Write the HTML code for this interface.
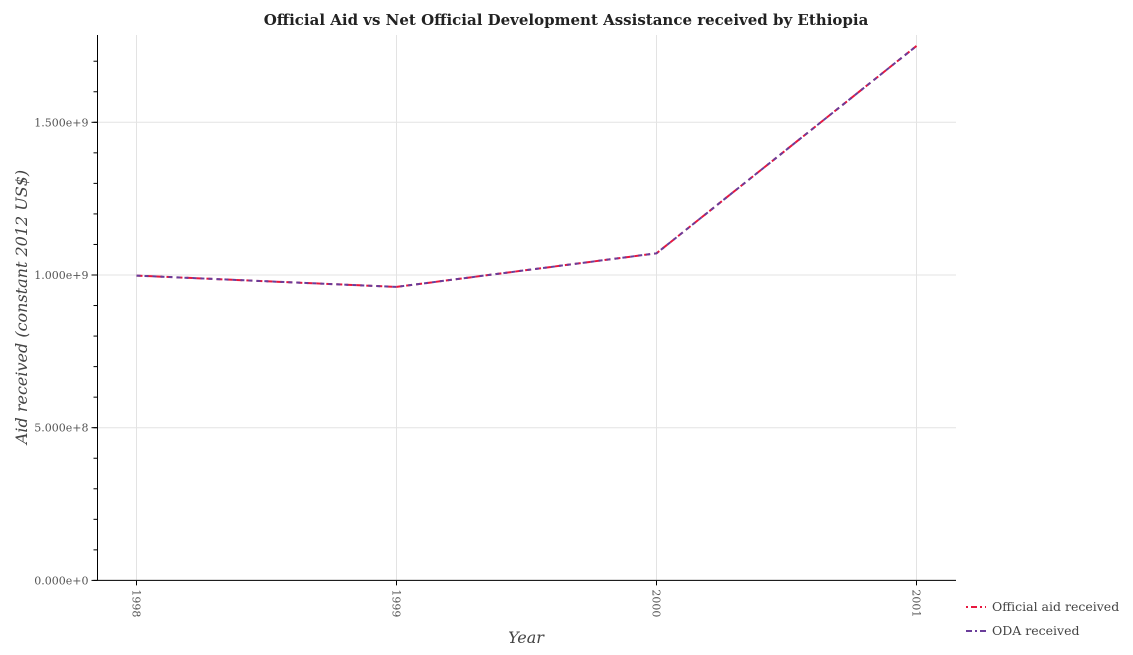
<!DOCTYPE html>
<html><head><meta charset="utf-8"><style>body{margin:0;background:#fff}svg{font-family:"DejaVu Serif","Liberation Serif",serif}</style></head>
<body>
<svg id="c" width="1133" height="650"></svg>
<script>
const years=["1998","1999","2000","2001"];
const officialAid=[998000000,961000000,1071000000,1750000000];
const odaReceived=[998000000,961000000,1071000000,1750000000];
const yTicks=[0,500000000,1000000000,1500000000];
const yTickLabels=["0.000e+0","5.000e+8","1.000e+9","1.500e+9"];
const ns="http://www.w3.org/2000/svg",svg=document.getElementById('c');
const L=97.5,R=956,T=35,B=580.4;
const xs=i=>136.5+i*260;
const ys=v=>B-v/1e9*305.4;
function el(t,a,txt){const e=document.createElementNS(ns,t);for(const k in a)e.setAttribute(k,a[k]);if(txt!==undefined)e.textContent=txt;svg.appendChild(e);return e;}
let e=el('text',{x:566,y:25,'text-anchor':'middle','font-size':15,'font-weight':'bold',fill:'#222'},'Official Aid vs Net Official Development Assistance received by Ethiopia');

years.forEach((y,i)=>{let g=el('line',{x1:xs(i),x2:xs(i),y1:T,y2:B,stroke:'#e3e3e3'});
let t=el('line',{x1:xs(i),x2:xs(i),y1:B,y2:B+5,stroke:'#000'});
let l=el('text',{transform:`translate(${xs(i)-4},${B+9}) rotate(90)`,'font-size':11,fill:'#555'},y);});
for(let v=0;v<=1.7e9;v+=1e8){let t=el('line',{x1:L-4,x2:L,y1:ys(v),y2:ys(v),stroke:'#000'});}
yTicks.forEach((v,i)=>{let g=el('line',{x1:L,x2:R,y1:ys(v),y2:ys(v),stroke:'#e3e3e3'});
let t=el('line',{x1:L-6,x2:L,y1:ys(v),y2:ys(v),stroke:'#000'});
let l=el('text',{x:L-9,y:ys(v)+4,'text-anchor':'end','font-size':11,fill:'#555'},yTickLabels[i]);});
let a=el('line',{x1:L,x2:L,y1:T,y2:B,stroke:'#000'});
a=el('line',{x1:L,x2:R,y1:B,y2:B,stroke:'#000'});
a=el('text',{x:526,y:643,'text-anchor':'middle','font-size':16,'font-style':'italic',fill:'#444'},'Year');
a=el('text',{transform:'translate(27,307) rotate(-90)','text-anchor':'middle','font-size':16,'font-style':'italic',fill:'#444'},'Aid received (constant 2012 US$)');
function line(d,c,dash,n){let p=el('polyline',{points:d.map((v,i)=>xs(i)+','+ys(v)).join(' '),fill:'none',stroke:c,'stroke-width':2,'stroke-dasharray':dash});}
line(officialAid,'#e8173e','6,4','official-aid-line');
line(odaReceived,'#6a3d9a','4,4','oda-line');
[['Official aid received','#e8173e','2,3,6,3'],['ODA received','#6a3d9a','6,3,2,3']].forEach((d,i)=>{const y=607+i*24;
let s=el('line',{x1:966,x2:986,y1:y,y2:y,stroke:d[1],'stroke-width':2,'stroke-dasharray':d[2]});
let t=el('text',{x:992,y:y+4,'font-size':12.5,fill:'#444'},d[0]);});
</script>
</body></html>
